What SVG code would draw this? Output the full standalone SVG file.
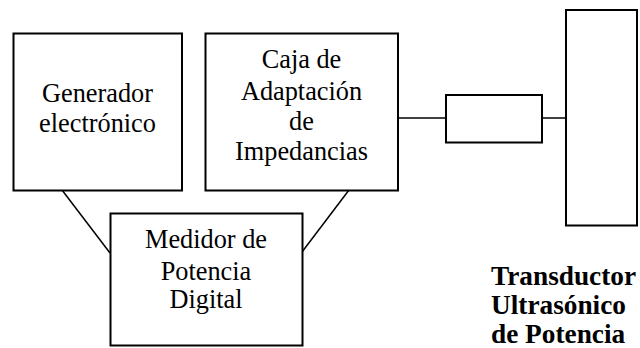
<svg xmlns="http://www.w3.org/2000/svg" width="640" height="348" viewBox="0 0 640 348">
<style>
.b{fill:#fff;stroke:#000;stroke-width:2}
.l{fill:none;stroke:#000;stroke-width:1.5}
.t{font-size:26.3px;fill:#000;text-anchor:middle}
.tb{font-size:27.3px;font-weight:bold;fill:#000}
</style>
<rect width="640" height="348" fill="#fff"/>
<g id="connectors">
<line class="l" x1="62" y1="190" x2="110" y2="253"/>
<line class="l" x1="349" y1="190" x2="302" y2="252"/>
<line class="l" x1="398" y1="118" x2="446" y2="118"/>
<line class="l" x1="542" y1="118" x2="566" y2="118"/>
</g>
<g font-family="'Liberation Serif', 'Times New Roman', Times, 'DejaVu Serif', serif">
<g id="generador">
<rect class="b" x="13.5" y="33.5" width="168.5" height="157"/>
<text class="t" x="97.5" y="101.5">Generador</text>
<text class="t" x="97.5" y="131.5">electrónico</text>
</g>
<g id="caja">
<rect class="b" x="205.5" y="33.5" width="192.5" height="157"/>
<text class="t" x="301.5" y="68">Caja de</text>
<text class="t" x="301.5" y="100">Adaptación</text>
<text class="t" x="301.5" y="130">de</text>
<text class="t" x="301.5" y="160">Impedancias</text>
</g>
<g id="medidor">
<rect class="b" x="110.5" y="213.5" width="192" height="132"/>
<text class="t" x="206" y="248">Medidor de</text>
<text class="t" x="206" y="280">Potencia</text>
<text class="t" x="206" y="308">Digital</text>
</g>
<g id="conector-pequeno">
<rect class="b" x="446" y="95" width="96" height="47.5"/>
</g>
<g id="transductor">
<rect class="b" x="566" y="10" width="71" height="215.5"/>
<text class="tb" x="491" y="285">Transductor</text>
<text class="tb" x="491" y="314">Ultrasónico</text>
<text class="tb" x="491" y="343">de Potencia</text>
</g>
</g>
</svg>
